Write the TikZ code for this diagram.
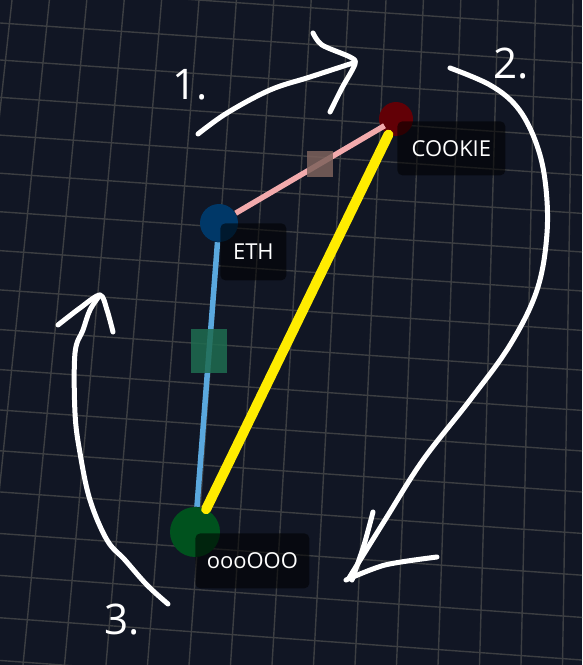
\documentclass[tikz,border=0pt]{standalone}
\usepackage{fontspec}
\setmainfont{Open Sans}
\usepackage{tikz}
\definecolor{bgnavy}{RGB}{17,22,36}
\definecolor{gridgray}{RGB}{60,62,66}
\definecolor{cookiered}{RGB}{98,0,6}
\definecolor{ethblue}{RGB}{0,56,104}
\definecolor{ooogreen}{RGB}{0,82,30}
\definecolor{pinkline}{RGB}{242,170,172}
\definecolor{blueline}{RGB}{90,168,222}
\definecolor{yellowline}{RGB}{255,236,0}
\definecolor{brownbox}{RGB}{125,98,92}
\definecolor{greenbox}{RGB}{30,108,80}
\tikzset{gridline/.style={gridgray, line width=0.028cm}}
\tikzset{coin/.style={circle, draw=none, fill=#1, inner sep=0pt}}
\tikzset{tag/.style={anchor=north west, fill=black, fill opacity=0.55, text opacity=1, text=white, rounded corners=0.1cm, font=\fontsize{12.5}{14}\selectfont, inner sep=0pt}}
\tikzset{midbox/.style={rectangle, fill=#1, fill opacity=0.85, inner sep=0pt}}
\tikzset{hand/.style={white, line width=0.1cm, line cap=round, line join=round}}
\tikzset{step number/.style={text=white, font=\fontsize{24}{26}\selectfont}}

\begin{document}
\begin{tikzpicture}[x=0.02cm, y=-0.02cm]
            \fill[bgnavy] (0,0) rectangle (582,665);
            \useasboundingbox (0,0) rectangle (582,665);
            \begin{scope}
                \clip (0,0) rectangle (582,665);
                \foreach \k in {-1,...,16} {
                    \draw[gridline] ({12+37.4*\k},0) -- ({-60+41.5*\k},665);
                }
                \foreach \j in {-1,...,16} {
                    \draw[gridline] (0,{23+36.8*\j+0.19*\j*\j}) -- (582,{63+36.8*\j+0.2*\j*\j});
                }
            \end{scope}
            \node[coin=cookiered, minimum size=0.68cm] (cookie) at (396,119) {};
            \node[coin=ethblue, minimum size=0.76cm] (eth) at (219,223) {};
            \node[coin=ooogreen, minimum size=1cm] (ooo) at (195,532) {};
            \draw[pinkline, line width=0.11cm, shorten >=-0.08cm] (eth) -- node[midbox=brownbox, pos=0.58, minimum size=0.52cm] (pinkmid) {} (cookie);
            \draw[blueline, line width=0.11cm] (eth) -- node[midbox=greenbox, pos=0.41, minimum width=0.72cm, minimum height=0.88cm] (bluemid) {} (ooo);
            \draw[yellowline, line width=0.2cm, line cap=round] (cookie) -- (ooo);
            \node[tag, minimum width=2.16cm, minimum height=1.08cm] (cookietag) at ([shift={(1,2)}]cookie.center) {COOKIE};
            \node[tag, minimum width=1.32cm, minimum height=1.14cm] (ethtag) at ([shift={(1,0)}]eth.center) {ETH};
            \node[tag, minimum width=2.28cm, minimum height=1.1cm] (ootag) at ([shift={(0,1)}]ooo.center) {oooOOO};
            \draw[hand] plot[smooth, tension=0.6] coordinates {(198,134) (227,113) (270,90) (310,77) (353,63)};
            \draw[hand] plot[smooth, tension=0.5] coordinates {(313,33) (322,45) (350,57) (355,64) (342,88) (330,112)};
            \draw[hand] plot[smooth, tension=0.6] coordinates {(450,68) (490,85) (517,107) (535,140) (545,180) (547,233) (537,290) (510,345) (470,400) (423,460) (385,520) (349,578)};
            \draw[hand] plot[smooth, tension=0.5] coordinates {(373,512) (364,545) (352,580)};
            \draw[hand] plot[smooth, tension=0.5] coordinates {(346,580) (385,565) (437,557)};
            \draw[hand] plot[smooth, tension=0.6] coordinates {(168,604) (147,585) (125,560) (107,540) (90,500) (80,453) (75,413) (75,353) (83,330) (90,310) (100,295)};
            \draw[hand] plot[smooth, tension=0.5] coordinates {(58,325) (80,308) (100,295) (107,310) (113,332)};
            \node[step number] (one) at (190,85) {1.};
            \node[step number] (two) at (511,64) {2.};
            \node[step number] (three) at (122,620) {3.};
        \end{tikzpicture}
\end{document}
